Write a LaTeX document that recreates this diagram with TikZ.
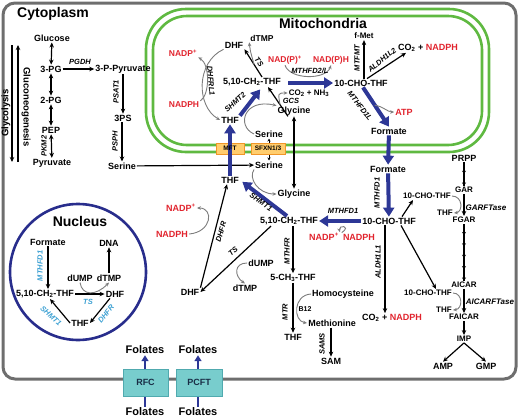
\documentclass[tikz,border=0pt]{standalone}
\usepackage{fontspec}
\setmainfont{Liberation Sans}
\usetikzlibrary{arrows.meta,decorations.markings}
\definecolor{myblue}{RGB}{45,55,150}
\definecolor{mygreen}{RGB}{95,185,65}
\definecolor{myred}{RGB}{225,35,45}
\definecolor{ltblue}{RGB}{60,160,210}
\definecolor{mygray}{RGB}{125,125,125}
\definecolor{bordergray}{RGB}{110,110,110}
\definecolor{navyc}{RGB}{40,45,140}
\definecolor{orfill}{RGB}{255,205,110}
\definecolor{ordraw}{RGB}{240,150,40}
\definecolor{tealfill}{RGB}{120,205,205}
\definecolor{tealdraw}{RGB}{80,170,175}
\tikzset{
 lbl/.style={font=\fontsize{9}{10}\selectfont\bfseries, inner sep=1pt},
 mlbl/.style={font=\fontsize{8.5}{9}\selectfont\bfseries, inner sep=1pt},
 sm/.style={font=\fontsize{8}{9}\selectfont\bfseries, inner sep=1pt},
 vlbl/.style={font=\fontsize{9.5}{10}\selectfont\bfseries, inner sep=1pt},
 enz/.style={font=\fontsize{7.5}{8}\selectfont\bfseries\itshape, inner sep=0.5pt},
 nenz/.style={enz, text=ltblue},
 rd/.style={text=myred},
 ttl/.style={font=\fontsize{14}{16}\selectfont\bfseries, inner sep=1pt},
 fol/.style={font=\fontsize{11}{12}\selectfont\bfseries, inner sep=1pt},
 blk/.style={draw=black, line width=1.2pt, -{Stealth[length=5pt,width=4.5pt]}},
 dbl/.style={draw=black, line width=1.2pt, {Stealth[length=5pt,width=4.5pt]}-{Stealth[length=5pt,width=4.5pt]}},
 sdbl/.style={draw=black, line width=0.8pt, {Stealth[length=3pt,width=3pt]}-{Stealth[length=3pt,width=3pt]}},
 barr/.style={draw=myblue, line width=4pt, -{Triangle[length=9pt,width=11pt]}},
 tarr/.style={draw=myblue, line width=2.5pt, -{Triangle[length=6pt,width=7pt]}},
 garc/.style={draw=mygray, line width=0.9pt, -{Stealth[length=4pt,width=3.5pt]}},
 obox/.style={draw=ordraw, fill=orfill, line width=1pt, inner sep=0pt},
 tbox/.style={draw=tealdraw, fill=tealfill, line width=1pt, font=\fontsize{9}{10}\selectfont\bfseries, text={rgb,255:red,25;green,45;blue,70}},
 chA/.style={draw=black, line width=1.1pt, postaction={decorate}, decoration={markings,
   mark=at position 0.5 with {\arrow{Stealth[length=3.5pt,width=4pt]}},
   mark=at position 1 with {\arrow{Stealth[length=3.5pt,width=4pt]}}}},
 chB/.style={draw=black, line width=1.1pt, postaction={decorate}, decoration={markings,
   mark=at position 0.2 with {\arrow{Stealth[length=3.5pt,width=4pt]}},
   mark=at position 0.4 with {\arrow{Stealth[length=3.5pt,width=4pt]}},
   mark=at position 0.6 with {\arrow{Stealth[length=3.5pt,width=4pt]}},
   mark=at position 0.8 with {\arrow{Stealth[length=3.5pt,width=4pt]}},
   mark=at position 1 with {\arrow{Stealth[length=3.5pt,width=4pt]}}}},
}
\begin{document}
\begin{tikzpicture}[x=1pt,y=-1pt]
\useasboundingbox (0,0) rectangle (520,418);
% cytoplasm
\draw[bordergray, line width=3pt, rounded corners=12pt] (3,3) rectangle (516,379);
% mitochondria
\draw[mygreen, line width=2.6pt, rounded corners=40pt] (146,9) rectangle (489,152);
\draw[mygreen, line width=2.6pt, rounded corners=34pt] (153,16) rectangle (482,145);
% nucleus
\draw[navyc, line width=2.6pt] (78,272) circle[radius=68pt];

% titles
\node[ttl] (cyt) at (53,14) {Cytoplasm};
\node[ttl] (mito) at (323,23) {Mitochondria};
\node[ttl] (nuc) at (80,221) {Nucleus};

% glycolysis
\node[vlbl, rotate=90] (glyc) at (6,113) {Glycolysis};
\node[vlbl, rotate=-90] (glucn) at (26,107) {Gluconeogenesis};
\coordinate (g1t) at (12,45); \coordinate (g1b) at (12,162);
\coordinate (g2t) at (18,45); \coordinate (g2b) at (18,162);
\draw[blk] (g1t) -- (g1b);
\draw[blk] (g2b) -- (g2t);
\node[lbl] (glc) at (52,38) {Glucose};
\node[lbl] (pga) at (51,69) {3-PG};
\node[lbl] (pgb) at (51,100) {2-PG};
\node[lbl] (pep) at (51,130) {PEP};
\node[lbl] (pyr) at (52,163) {Pyruvate};
\draw[dbl] (glc) -- (pga);
\draw[dbl] (pga) -- (pgb);
\draw[dbl] (pgb) -- (pep);
\draw[dbl] (pep) -- (pyr);
\node[enz, rotate=90] (pkm) at (44,146) {PKM2};
\node[lbl] (ppyr) at (123,69) {3-P-Pyruvate};
\draw[blk] (pga) -- (ppyr);
\node[enz] (pgdh) at (80,62) {PGDH};
\node[lbl] (ps3) at (123,118) {3PS};
\draw[blk] (ppyr) -- (ps3);
\node[enz, rotate=90] (psat) at (116,92) {PSAT1};
\node[lbl] (cser1) at (122,166) {Serine};
\draw[blk] (ps3.south -| cser1) -- (cser1);
\node[enz, rotate=90] (psph) at (115,141) {PSPH};
\node[lbl] (cser2) at (269,165) {Serine};
\draw[blk] (cser1) -- (cser2);

% mitochondria content
\node[mlbl, rd] (mnadp) at (183,53) {NADP\textsuperscript{+}};
\node[mlbl, rd] (mnadph) at (184,105) {NADPH};
\draw[garc] (mnadph.north east) .. controls (210,95) and (210,64) .. (mnadp.south east);
\node[lbl] (mdhf) at (234,45) {DHF};
\node[mlbl] (mdtmp) at (262,38) {dTMP};
\node[lbl] (mch2) at (252,82) {5,10-CH\textsubscript{2}-THF};
\node[lbl] (mthf) at (230,120) {THF};
\node[lbl] (mser) at (269,134) {Serine};
\node[lbl] (mgly) at (294,111) {Glycine};
\node[sm] (co2n) at (309,93) {CO\textsubscript{2} + NH\textsubscript{3}};
\node[mlbl, rd] (mnadp2) at (285,60) {NAD(P)\textsuperscript{+}};
\node[mlbl, rd] (mnadph2) at (331,60) {NAD(P)H};
\node[lbl] (mcho) at (361,83) {10-CHO-THF};
\node[sm] (fmet) at (364,36) {f-Met};
\node[lbl] (mco2) at (428,48) {CO\textsubscript{2} + \textcolor{myred}{NADPH}};
\node[lbl, rd] (atp) at (404,112) {ATP};
\node[lbl] (mfor) at (389,131) {Formate};

\draw[garc] (mdhf.south west) .. controls (196,62) and (196,106) .. (mthf.west);
\node[enz, rotate=-85] (dhfrl) at (211,81) {DHFRL1};
\draw[blk] ([xshift=10pt]mch2.north) -- coordinate[pos=0.45] (tsm) (mdhf.south east);
\node[enz, rotate=-54] (mts) at (259,62) {TS};
\draw[garc] (tsm) .. controls (250,50) .. (mdtmp.south west);
\draw[barr, shorten >=3pt] (mthf.north east) -- ([xshift=10pt]mch2.south);
\node[enz, rotate=42] (shmt2) at (235,102) {SHMT2};
\draw[garc] (mser.west) .. controls (236,126) and (244,98) .. (mgly.north west);
\draw[blk] ([xshift=-6pt]mgly.south) -- coordinate[pos=0.4] (gcsm) ([xshift=16pt]mch2.south);
\node[enz] (gcs) at (291,101) {GCS};
\draw[garc] (gcsm) .. controls (278,93) .. (co2n.west);
\draw[barr, shorten <=6pt] (mch2.east |- mcho.west) -- (mcho.west);
\draw[garc] (mnadp2.south) .. controls (290,80) and (326,80) .. (mnadph2.south);
\node[enz] (mthfd2) at (310,71) {MTHFD2/L};
\draw[blk] (mcho.north -| fmet) -- (fmet.south);
\node[enz, rotate=90] (mtfmt) at (357,58) {MTFMT};
\draw[blk] ([xshift=6pt]mcho.north) -- ([xshift=9pt]mco2.south west);
\node[enz, rotate=39] (aldh2) at (382,60) {ALDH1L2};
\draw[barr] ([xshift=2pt]mcho.south) -- coordinate[pos=0.45] (d1lm) (mfor.north);
\node[enz, rotate=-52] (mthfd1l) at (360,106) {MTHFD1L};
\draw[garc] (d1lm) .. controls (382,106) and (388,112) .. (atp.west);

% cytoplasm middle
\node[lbl] (cthf) at (230,180) {THF};
\node[lbl] (cgly) at (294,194) {Glycine};
\node[lbl] (cch2) at (289,221) {5,10-CH\textsubscript{2}-THF};
\node[lbl] (ccho) at (389,221) {10-CHO-THF};
\node[lbl, rd] (cnadp) at (324,237) {NADP\textsuperscript{+}};
\node[lbl, rd] (cnadph) at (359,237) {NADPH};
\node[lbl] (cfor) at (388,169) {Formate};

\draw[barr] (mfor) -- (cfor);
\draw[barr] (cfor) -- (ccho);
\node[enz, rotate=90] (mthfd1a) at (377,193) {MTHFD1};
\draw[dbl] (mgly.south) -- (cgly.north);
\draw[garc] (cser2.south west) .. controls (248,178) and (258,194) .. (cgly.west);
\draw[barr, shorten >=3pt] ([xshift=-2pt]cch2.north) -- (cthf.east);
\node[enz, rotate=-35] (shmt1) at (261,202) {SHMT1};
\draw[barr] (ccho.west) -- (cch2.east);
\node[enz] (mthfd1b) at (343,211) {MTHFD1};
\draw[garc] (cnadph.north west) .. controls (352,225) and (338,225) .. (cnadp.north east);

% transport across membrane
\draw[sdbl] (mser) -- (cser2);
\node[obox, minimum width=34pt, minimum height=11pt] (sfxbox) at (268,148.5) {};
\node[font=\fontsize{6.5}{7}\selectfont\bfseries] (sfxn) at (sfxbox.center) {SFXN1/3};
\node[obox, minimum width=28pt, minimum height=11pt] (mftbox) at (230,148.5) {};
\draw[barr] (cthf) -- (mthf);
\node[font=\fontsize{6.5}{7}\selectfont\bfseries] (mft) at (mftbox.center) {MFT};

% DHFR / TS cytoplasm
\node[lbl] (cdhf) at (190,292) {DHF};
\node[lbl, rd] (lnadp) at (181,208) {NADP\textsuperscript{+}};
\node[lbl, rd] (lnadph) at (172,234) {NADPH};
\draw[blk] (cdhf.north east) -- ([xshift=-3pt]cthf.south);
\node[enz, rotate=73] (dhfr) at (221,232) {DHFR};
\draw[garc] (lnadph.east) .. controls (212,232) and (214,208) .. (lnadp.east);
\draw[blk] ([xshift=-18pt]cch2.south) -- (cdhf.east);
\node[enz, rotate=41] (cts) at (233,251) {TS};
\node[lbl] (cdump) at (261,263) {dUMP};
\node[lbl] (cdtmp) at (245,288) {dTMP};
\draw[garc] (cdump.west) .. controls (234,263) and (234,276) .. (cdtmp.north);

% folate cycle lower
\node[lbl] (ch3) at (293,278) {5-CH\textsubscript{3}-THF};
\draw[blk] (cch2.south -| ch3.north) -- (ch3.north);
\node[enz, rotate=90] (mthfr) at (287,251) {MTHFR};
\node[lbl] (thfb) at (293,337) {THF};
\draw[blk] (ch3) -- (thfb);
\node[enz, rotate=90] (mtr) at (285,312) {MTR};
\node[font=\fontsize{7}{8}\selectfont\bfseries, inner sep=0.5pt] (b12) at (305,309) {B12};
\node[lbl] (hcy) at (343,294) {Homocysteine};
\node[lbl] (met) at (332,323) {Methionine};
\draw[garc] (hcy.west) .. controls (293,295) and (293,321) .. (met.west);
\node[lbl] (sam) at (331,361) {SAM};
\draw[blk] (met.south -| sam) -- (sam.north);
\node[enz, rotate=90] (sams) at (322,344) {SAMS};
\node[lbl] (cco2) at (392,318) {CO\textsubscript{2} + \textcolor{myred}{NADPH}};
\draw[blk] ([xshift=-4pt]ccho.south) -- ([xshift=-7pt]cco2.north);
\node[enz, rotate=90] (aldh1) at (378,262) {ALDH1L1};

% purine synthesis
\node[lbl] (prpp) at (464,158) {PRPP};
\node[sm] (gar) at (464,190) {GAR};
\node[sm] (fgar) at (464,220) {FGAR};
\node[sm] (aicar) at (464,285) {AICAR};
\node[sm] (faicar) at (464,317) {FAICAR};
\node[sm] (imp) at (464,339) {IMP};
\node[lbl] (amp) at (443,366) {AMP};
\node[lbl] (gmp) at (486,366) {GMP};
\node[sm] (cho1) at (427,196) {10-CHO-THF};
\node[sm] (thf1) at (445,213) {THF};
\node[sm] (cho2) at (428,293) {10-CHO-THF};
\node[sm] (thf2) at (444,310) {THF};
\node[enz, font=\fontsize{8}{9}\selectfont\bfseries\itshape] (garft) at (486,208) {GARFTase};
\node[enz, font=\fontsize{8}{9}\selectfont\bfseries\itshape] (aicft) at (490,302) {AICARFTase};
\draw[chA] (prpp.south) -- (gar.north);
\draw[blk, line width=1.1pt] (gar.south) -- (fgar.north);
\draw[chB] (fgar.south) -- (aicar.north);
\draw[blk, line width=1.1pt] (aicar.south) -- (faicar.north);
\draw[blk, line width=1.1pt] (faicar.south) -- (imp.north);
\draw[blk] (imp.south) -- (amp.north);
\draw[blk] (imp.south) -- (gmp.north);
\draw[garc] (cho1.east) .. controls (463,196) and (463,212) .. (thf1.east);
\draw[garc] (cho2.east) .. controls (463,293) and (463,309) .. (thf2.east);
\draw[blk] ([xshift=13pt]ccho.north) -- ([xshift=-14pt]cho1.south);
\draw[blk] ([xshift=12pt]ccho.south) -- ([xshift=8pt]cho2.north);

% nucleus content
\node[lbl] (nfor) at (48,242) {Formate};
\node[lbl] (ndna) at (109,243) {DNA};
\node[lbl] (nch2) at (45,294) {5,10-CH\textsubscript{2}-THF};
\node[lbl] (ndump) at (80,278) {dUMP};
\node[lbl] (ndtmp) at (109,278) {dTMP};
\node[lbl] (ndhf) at (115,294) {DHF};
\node[lbl] (nthf) at (80,323) {THF};
\draw[blk] (nfor.south) -- (nch2.north -| nfor.south);
\node[nenz, rotate=90] (nmthfd1) at (40,266) {MTHFD1};
\draw[blk] (ndtmp) -- (ndna);
\draw[blk] (nch2.east) -- (ndhf.west);
\node[nenz] (nts) at (88,302) {TS};
\draw[garc] (ndump.south) .. controls (82,296) and (96,296) .. (ndtmp.south);
\draw[blk] ([xshift=-5pt]ndhf.south) -- (nthf.east);
\node[nenz, rotate=50] (ndhfr) at (106,314) {DHFR};
\draw[blk] (nthf.west) -- ([xshift=5pt]nch2.south);
\node[nenz, rotate=-42] (nshmt) at (51,316) {SHMT1};

% transporters
\node[fol] (fu1) at (145,350) {Folates};
\node[fol] (fd1) at (145,412) {Folates};
\node[fol] (fu2) at (198,350) {Folates};
\node[fol] (fd2) at (198,412) {Folates};
\draw[tarr] (fd1) -- (fu1);
\draw[tarr] (fd2) -- (fu2);
\node[tbox, minimum width=45pt, minimum height=27pt] (rfc) at (145.5,382.5) {RFC};
\node[tbox, minimum width=46pt, minimum height=27pt] (pcft) at (199,382.5) {PCFT};
\end{tikzpicture}
\end{document}
